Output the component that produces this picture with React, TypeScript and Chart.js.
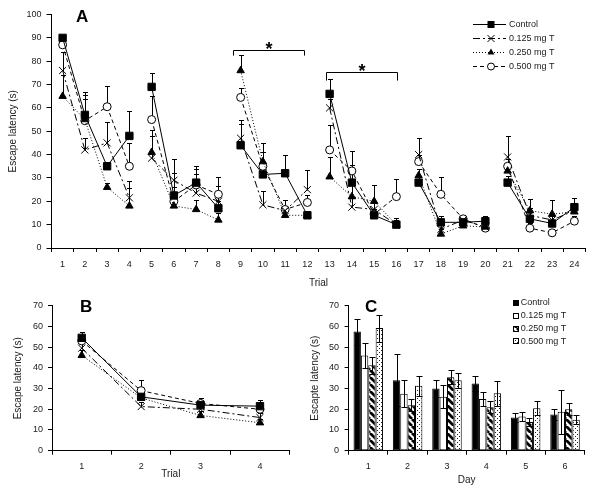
import React, { useEffect, useRef } from 'react';
import { Chart, registerables } from 'chart.js';

Chart.register(...registerables);

const FONT = "'Liberation Sans', Arial, Helvetica, sans-serif";
const TXT = '#1a1a1a';

// ---------- Panel A ----------
const trialLabelsA = ['1', '2', '3', '4', '5', '6', '7', '8', '9', '10', '11', '12', '13', '14', '15', '16', '17', '18', '19', '20', '21', '22', '23', '24'];
const sessionEndsA = [4, 8, 12, 16, 20];
const controlA = [90, 57, 35, 48, 69, 22.5, 28, 17, 44, 31.5, 32, 14, 66, 28, 14, 10, 28, 11, 11, 11.5, 28, 12.5, 10.5, 17.5];
const controlErrA = [1, 10, 2, 10.5, 6, 15.5, 7, 3, 9, 3, 8, 2, 6.5, 13.5, 2, 3, 3, 2.5, 2, 2, 3, 3, 3, 4];
const dose125A = [76, 42, 45, 21.5, 38.5, 29, 23.5, 20, 47, 18.5, 16, 25, 60, 17.5, 16.5, 10, 40, 8, 12, 9, 39, 14, 12, 16];
const dose125ErrA = [8, 5, 9, 7, 12, 3, 8, 6.5, 8, 6, 2, 8.5, 4, 4, 3, 3, 7, 2, 2, 1.5, 9, 3, 3, 3];
const dose250A = [65, 55, 26, 18, 41, 18, 16.5, 12, 76, 37, 14, 14, 30.5, 22, 20, 10, 31, 6, 9.5, 9, 33, 16, 14.5, 15.5];
const dose250ErrA = [9, 9, 2, 7.5, 7, 3, 4, 3, 6.5, 8, 2, 2, 8.5, 5, 7, 2, 3, 2, 2, 1.5, 3, 5, 6, 3];
const dose500A = [87, 54.5, 60.5, 35, 55, 20, 27, 23, 64.5, 35, 16.5, 19.5, 42, 33, 14.5, 22, 37, 23, 12.5, 8.5, 35, 8.5, 6.5, 11.5];
const dose500ErrA = [2, 11, 9, 10, 10, 6, 7, 7.5, 4, 6, 4, 3, 10.5, 2.5, 2, 7.5, 3, 7.5, 1.5, 1, 3, 2, 1, 2];
const sigBracketsA = [
  { from: 8.65, to: 11.85, level: 85, drop: 82.4 },
  { from: 12.83, to: 16.03, level: 75.2, drop: 71.7 },
];

// ---------- Panel B ----------
const trialLabelsB = ['1', '2', '3', '4'];
const controlB = [54.5, 26, 22, 21.5];
const controlErrB = [3, 3, 2.5, 3];
const dose125B = [49.5, 21.3, 20, 16];
const dose125ErrB = [3, 2, 2, 2];
const dose250B = [46, 25.5, 17, 13.5];
const dose250ErrB = [2.5, 2.5, 2, 2];
const dose500B = [53, 29, 22.8, 20];
const dose500ErrB = [2.5, 5, 2.5, 2.5];

// ---------- Panel C ----------
const dayLabelsC = ['1', '2', '3', '4', '5', '6'];
const controlC = [57.5, 34, 30, 32.5, 16, 17.5];
const controlErrC = [6.3, 12.5, 4, 3.5, 2, 2.5];
const dose125C = [46, 27.5, 26, 25, 16.5, 18.8];
const dose125ErrC = [6, 6.5, 5.5, 3.5, 2, 10.5];
const dose250C = [41.2, 22, 35.5, 21, 13.8, 20];
const dose250ErrC = [4, 3, 3.5, 3, 2, 3];
const dose500C = [59.2, 31.3, 34, 27.7, 20.5, 15];
const dose500ErrC = [6.5, 5, 3.5, 6, 3.5, 2];

const seriesNames = ['Control', '0.125 mg T', '0.250 mg T', '0.500 mg T'];
const markers = ['rect', 'crossRot', 'triangle', 'circle'];
const markerRadius = [5.2, 5, 4.3, 4];
const dashes: number[][] = [[], [7, 3, 2, 3], [1, 2], [4, 3]];

function drawMarker(ctx: CanvasRenderingContext2D, style: string, x: number, y: number) {
  ctx.save();
  ctx.setLineDash([]);
  ctx.lineWidth = 1;
  ctx.strokeStyle = '#000';
  ctx.fillStyle = '#000';
  if (style === 'rect') {
    ctx.fillRect(x - 3.5, y - 3.5, 7, 7);
  } else if (style === 'crossRot') {
    const s = 3.5;
    ctx.beginPath();
    ctx.moveTo(x - s, y - s); ctx.lineTo(x + s, y + s);
    ctx.moveTo(x - s, y + s); ctx.lineTo(x + s, y - s);
    ctx.stroke();
  } else if (style === 'triangle') {
    const r = 4;
    ctx.beginPath();
    ctx.moveTo(x, y - r);
    ctx.lineTo(x + r * 0.866, y + r / 2);
    ctx.lineTo(x - r * 0.866, y + r / 2);
    ctx.closePath();
    ctx.fill();
  } else {
    ctx.beginPath();
    ctx.arc(x, y, 3.5, 0, Math.PI * 2);
    ctx.fillStyle = '#fff';
    ctx.fill();
    ctx.stroke();
  }
  ctx.restore();
}

function errorBarPlugin(symmetric: boolean, cap: number, after: boolean) {
  const draw = (chart: any) => {
    const ctx = chart.ctx as CanvasRenderingContext2D;
    const ys = chart.scales.y;
    chart.data.datasets.forEach((ds: any, i: number) => {
      const errs = ds.errors;
      if (!errs) return;
      const meta = chart.getDatasetMeta(i);
      meta.data.forEach((el: any, j: number) => {
        const v = ds.data[j];
        const e = errs[j];
        if (v == null || e == null) return;
        const x = Math.round(el.x) + 0.5;
        const top = Math.round(ys.getPixelForValue(v + e)) + 0.5;
        const bot = Math.round(ys.getPixelForValue(symmetric ? v - e : v)) + 0.5;
        ctx.save();
        ctx.setLineDash([]);
        ctx.strokeStyle = '#000';
        ctx.lineWidth = 1;
        ctx.beginPath();
        ctx.moveTo(x, top); ctx.lineTo(x, bot);
        ctx.moveTo(x - cap, top); ctx.lineTo(x + cap, top);
        if (symmetric) { ctx.moveTo(x - cap, bot); ctx.lineTo(x + cap, bot); }
        ctx.stroke();
        ctx.restore();
      });
    });
  };
  return after
    ? { id: 'errbarsAfter', afterDatasetsDraw: draw }
    : { id: 'errbarsBefore', beforeDatasetsDraw: draw };
}

function panelLabel(text: string, x: number, y: number) {
  return {
    id: 'panelLabel' + text,
    afterDraw(chart: any) {
      const ctx = chart.ctx as CanvasRenderingContext2D;
      ctx.save();
      ctx.font = `bold 17px ${FONT}`;
      ctx.fillStyle = '#000';
      ctx.textBaseline = 'alphabetic';
      ctx.textAlign = 'left';
      ctx.fillText(text, x, y);
      ctx.restore();
    },
  };
}

const bracketPlugin = {
  id: 'brackets',
  afterDatasetsDraw(chart: any) {
    const ctx = chart.ctx as CanvasRenderingContext2D;
    const xs = chart.scales.x;
    const ys = chart.scales.y;
    sigBracketsA.forEach((b) => {
      const x1 = Math.round(xs.getPixelForValue(b.from - 1)) + 0.5;
      const x2 = Math.round(xs.getPixelForValue(b.to - 1)) + 0.5;
      const yl = Math.round(ys.getPixelForValue(b.level)) + 0.5;
      const yd = ys.getPixelForValue(b.drop);
      ctx.save();
      ctx.strokeStyle = '#000';
      ctx.lineWidth = 1;
      ctx.setLineDash([]);
      ctx.beginPath();
      ctx.moveTo(x1, yd); ctx.lineTo(x1, yl); ctx.lineTo(x2, yl); ctx.lineTo(x2, yd);
      ctx.stroke();
      ctx.font = `bold 18px ${FONT}`;
      ctx.fillStyle = '#000';
      ctx.textAlign = 'center';
      ctx.textBaseline = 'alphabetic';
      ctx.fillText('*', (x1 + x2) / 2, yl + 4);
      ctx.restore();
    });
  },
};

const legendAPlugin = {
  id: 'legendA',
  afterDraw(chart: any) {
    const ctx = chart.ctx as CanvasRenderingContext2D;
    const rows = [24, 37.9, 51.8, 65.7];
    seriesNames.forEach((name, k) => {
      const y = Math.round(rows[k]) + 0.5;
      ctx.save();
      ctx.strokeStyle = '#000';
      ctx.lineWidth = 1;
      ctx.setLineDash(dashes[k]);
      ctx.beginPath();
      ctx.moveTo(473, y); ctx.lineTo(506, y);
      ctx.stroke();
      ctx.restore();
      drawMarker(ctx, markers[k], 491, y);
      ctx.save();
      ctx.font = `9px ${FONT}`;
      ctx.fillStyle = TXT;
      ctx.textBaseline = 'middle';
      ctx.textAlign = 'left';
      ctx.fillText(name, 509, y);
      ctx.restore();
    });
  },
};

function axisCommon(opts: {
  tickLen: number; pad: number; title: string; titlePad: any; fit: (s: any) => void;
}) {
  return {
    grid: { display: true, drawOnChartArea: false, drawTicks: true, tickLength: opts.tickLen, color: '#000', lineWidth: 1 },
    border: { display: true, color: '#000', width: 1 },
    ticks: { padding: opts.pad, color: TXT, font: { family: FONT, size: 9 }, autoSkip: false, maxRotation: 0 },
    title: { display: true, text: opts.title, color: TXT, font: { family: FONT, size: 10 }, padding: opts.titlePad },
    afterFit: opts.fit,
  };
}

function lineDatasets(values: number[][], errs: number[][], breaks: number[]) {
  return seriesNames.map((name, k) => ({
    label: name,
    data: values[k],
    errors: errs[k],
    borderColor: '#000',
    borderWidth: 1,
    borderDash: dashes[k],
    pointStyle: markers[k],
    pointRadius: markerRadius[k],
    pointBackgroundColor: k === 3 ? '#fff' : '#000',
    pointBorderColor: '#000',
    pointBorderWidth: 1,
    fill: false,
    tension: 0,
    segment: {
      borderColor: (c: any) => (breaks.includes(c.p0DataIndex + 1) ? 'rgba(0,0,0,0)' : '#000'),
    },
  }));
}

function makeHatch(): CanvasPattern | string {
  const c = document.createElement('canvas');
  c.width = 7; c.height = 7;
  const g = c.getContext('2d');
  if (!g) return '#444';
  g.fillStyle = '#fff';
  g.fillRect(0, 0, 7, 7);
  g.strokeStyle = '#000';
  g.lineWidth = 2.8;
  g.beginPath();
  for (let k = -7; k <= 7; k += 7) { g.moveTo(k, 0); g.lineTo(k + 7, 7); }
  g.stroke();
  return g.createPattern(c, 'repeat') || '#444';
}

function makeDots(): CanvasPattern | string {
  const c = document.createElement('canvas');
  c.width = 4; c.height = 4;
  const g = c.getContext('2d');
  if (!g) return '#ddd';
  g.fillStyle = '#fff';
  g.fillRect(0, 0, 4, 4);
  g.fillStyle = '#222';
  g.fillRect(1, 1, 1, 1);
  g.fillRect(3, 3, 1, 1);
  return g.createPattern(c, 'repeat') || '#ddd';
}

export default function App() {
  const refA = useRef<HTMLCanvasElement>(null);
  const refB = useRef<HTMLCanvasElement>(null);
  const refC = useRef<HTMLCanvasElement>(null);

  useEffect(() => {
    const charts: Chart[] = [];

    // Panel A
    if (refA.current) {
      const xA: any = axisCommon({
        tickLen: 4, pad: 7, title: 'Trial', titlePad: { top: 0, bottom: 11 },
        fit: (s: any) => { s.height = 52; },
      });
      xA.offset = true;
      xA.grid.offset = true;
      const yA: any = axisCommon({
        tickLen: 5, pad: 5, title: 'Escape latency (s)', titlePad: { top: 7.5, bottom: 0 },
        fit: (s: any) => { s.width = 51.5; },
      });
      yA.min = 0; yA.max = 100; yA.ticks.stepSize = 10;
      charts.push(new Chart(refA.current, {
        type: 'line',
        data: {
          labels: trialLabelsA,
          datasets: lineDatasets(
            [controlA, dose125A, dose250A, dose500A],
            [controlErrA, dose125ErrA, dose250ErrA, dose500ErrA],
            sessionEndsA,
          ) as any,
        },
        options: {
          responsive: false, animation: false, events: [],
          layout: { padding: { left: 0, right: 14.5, top: 14.5, bottom: 0 } },
          plugins: { legend: { display: false }, tooltip: { enabled: false } },
          scales: { x: xA, y: yA },
        },
        plugins: [errorBarPlugin(false, 2.5, false), bracketPlugin, legendAPlugin, panelLabel('A', 76, 22)],
      }));
    }

    // Panel B
    if (refB.current) {
      const xB: any = axisCommon({
        tickLen: 4, pad: 6, title: 'Trial', titlePad: { top: 0, bottom: 13 },
        fit: (s: any) => { s.height = 42.3; },
      });
      xB.offset = true;
      xB.grid.offset = true;
      const yB: any = axisCommon({
        tickLen: 4, pad: 5, title: 'Escape latency (s)', titlePad: { top: 12, bottom: 0 },
        fit: (s: any) => { s.width = 52; },
      });
      yB.min = 0; yB.max = 70; yB.ticks.stepSize = 10;
      charts.push(new Chart(refB.current, {
        type: 'line',
        data: {
          labels: trialLabelsB,
          datasets: lineDatasets(
            [controlB, dose125B, dose250B, dose500B],
            [controlErrB, dose125ErrB, dose250ErrB, dose500ErrB],
            [],
          ) as any,
        },
        options: {
          responsive: false, animation: false, events: [],
          layout: { padding: { left: 0, right: 10.3, top: 10.7, bottom: 0 } },
          plugins: { legend: { display: false }, tooltip: { enabled: false } },
          scales: { x: xB, y: yB },
        },
        plugins: [errorBarPlugin(false, 2.5, false), panelLabel('B', 80, 17)],
      }));
    }

    // Panel C
    if (refC.current) {
      const hatch = makeHatch();
      const dots = makeDots();
      const fills: any[] = ['#000', '#fff', hatch, dots];
      const xC: any = axisCommon({
        tickLen: 4, pad: 6, title: 'Day', titlePad: { top: 0, bottom: 7 },
        fit: (s: any) => { s.height = 42.3; },
      });
      xC.offset = true;
      xC.grid.offset = true;
      const yC: any = axisCommon({
        tickLen: 4, pad: 5.6, title: 'Escapte latency (s)', titlePad: { top: 9, bottom: 0 },
        fit: (s: any) => { s.width = 48.6; },
      });
      yC.min = 0; yC.max = 70; yC.ticks.stepSize = 10;
      const valsC = [controlC, dose125C, dose250C, dose500C];
      const errsC = [controlErrC, dose125ErrC, dose250ErrC, dose500ErrC];
      const legendCPlugin = {
        id: 'legendC',
        afterDraw(chart: any) {
          const ctx = chart.ctx as CanvasRenderingContext2D;
          const rows = [10, 22.8, 35.6, 48.4];
          seriesNames.forEach((name, k) => {
            const y = rows[k];
            ctx.save();
            ctx.fillStyle = fills[k];
            ctx.fillRect(213, Math.round(y - 3), 6, 6);
            ctx.strokeStyle = '#000';
            ctx.lineWidth = 1;
            ctx.strokeRect(213.5, Math.round(y - 3) + 0.5, 5, 5);
            ctx.font = `9px ${FONT}`;
            ctx.fillStyle = TXT;
            ctx.textBaseline = 'middle';
            ctx.textAlign = 'left';
            ctx.fillText(name, 220.7, y);
            ctx.restore();
          });
        },
      };
      charts.push(new Chart(refC.current, {
        type: 'bar',
        data: {
          labels: dayLabelsC,
          datasets: seriesNames.map((name, k) => ({
            label: name,
            data: valsC[k],
            errors: errsC[k],
            backgroundColor: fills[k],
            borderColor: '#000',
            borderWidth: 1,
            borderSkipped: false,
            categoryPercentage: 0.75,
            barPercentage: 1,
          })) as any,
        },
        options: {
          responsive: false, animation: false, events: [],
          layout: { padding: { left: 0, right: 15.3, top: 12.7, bottom: 0 } },
          plugins: { legend: { display: false }, tooltip: { enabled: false } },
          scales: { x: xC, y: yC },
        },
        plugins: [errorBarPlugin(true, 3, true), legendCPlugin, panelLabel('C', 65, 19)],
      }));
    }

    return () => { charts.forEach((c) => c.destroy()); };
  }, []);

  return (
    <div style={{ position: 'absolute', left: 0, top: 0, width: 600, height: 493, background: '#fff', overflow: 'hidden' }}>
      <canvas ref={refA} width={600} height={300} style={{ position: 'absolute', left: 0, top: 0, width: 600, height: 300 }} />
      <canvas ref={refB} width={300} height={198} style={{ position: 'absolute', left: 0, top: 295, width: 300, height: 198 }} />
      <canvas ref={refC} width={300} height={200} style={{ position: 'absolute', left: 300, top: 293, width: 300, height: 200 }} />
    </div>
  );
}
